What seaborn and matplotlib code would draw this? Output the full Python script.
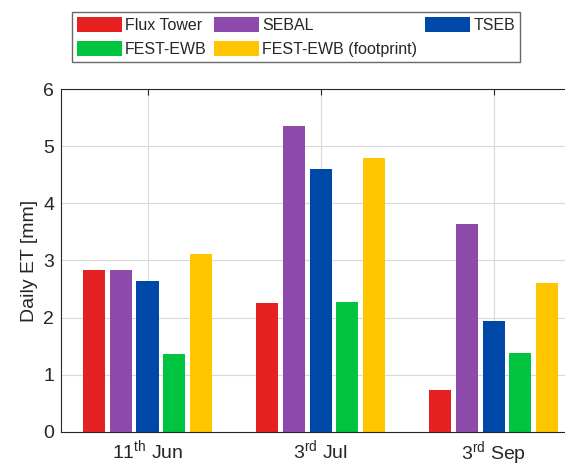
import matplotlib
matplotlib.use("Agg")
import matplotlib.pyplot as plt
import seaborn as sns
import pandas as pd

dates = ["11$^{\\rm th}$ Jun", "3$^{\\rm rd}$ Jul", "3$^{\\rm rd}$ Sep"]
methods = ["Flux Tower", "SEBAL", "TSEB", "FEST-EWB", "FEST-EWB (footprint)"]
flux_tower = [2.83, 2.26, 0.74]
sebal = [2.83, 5.36, 3.64]
tseb = [2.65, 4.60, 1.95]
fest_ewb = [1.37, 2.28, 1.39]
fest_fp = [3.12, 4.80, 2.61]
colors = ["#E62121", "#8E4AAB", "#0048A8", "#00C43F", "#FFC600"]

series = [flux_tower, sebal, tseb, fest_ewb, fest_fp]
rows = []
for m, vals in zip(methods, series):
    for d, v in zip(dates, vals):
        rows.append({"date": d, "method": m, "et": v})
df = pd.DataFrame(rows)

sns.set_style("white")
plt.rcParams['font.family'] = ['Liberation Sans', 'DejaVu Sans']
plt.rcParams['mathtext.fontset'] = 'custom'
plt.rcParams['mathtext.rm'] = 'Liberation Sans'
fig = plt.figure(figsize=(5.65, 4.66), dpi=100)
ax = fig.add_axes([0.108, 0.073, 0.919, 0.736])

sns.barplot(data=df, x="date", y="et", hue="method", order=dates,
            hue_order=methods, palette=colors, width=0.77, gap=0.17,
            saturation=1, ax=ax, legend=True, edgecolor="none")

ax.set_xlim(-0.5, 2.5)
ax.set_ylim(0, 6)
ax.set_yticks(range(0, 7))
ax.grid(True, color="#d9d9d9", linewidth=0.8)
ax.set_axisbelow(True)
ax.set_xlabel("")
ax.set_ylabel("Daily ET [mm]", fontsize=14, color="#262626")
ax.tick_params(axis="both", labelsize=14, colors="#262626", direction="in",
               length=4, top=True, right=False, pad=5)
for s in ["left", "bottom", "top"]:
    ax.spines[s].set_color("#262626")
    ax.spines[s].set_linewidth(0.8)
ax.spines["right"].set_visible(False)

handles, labels = ax.get_legend_handles_labels()
order = [0, 3, 1, 4, 2]
ax.legend([handles[i] for i in order], [labels[i] for i in order],
          ncol=3, loc="upper left", bbox_to_anchor=(72/565, 1 - 12/466),
          bbox_transform=fig.transFigure, borderaxespad=0, fontsize=11.5,
          frameon=True, fancybox=False, edgecolor="#444444",
          handlelength=2.8, handleheight=1.1, handletextpad=0.2,
          columnspacing=0.5, borderpad=0.3, labelspacing=0.5)
leg = ax.get_legend()
leg.get_frame().set_linewidth(1.0)

fig.savefig("out.png", dpi=100)
